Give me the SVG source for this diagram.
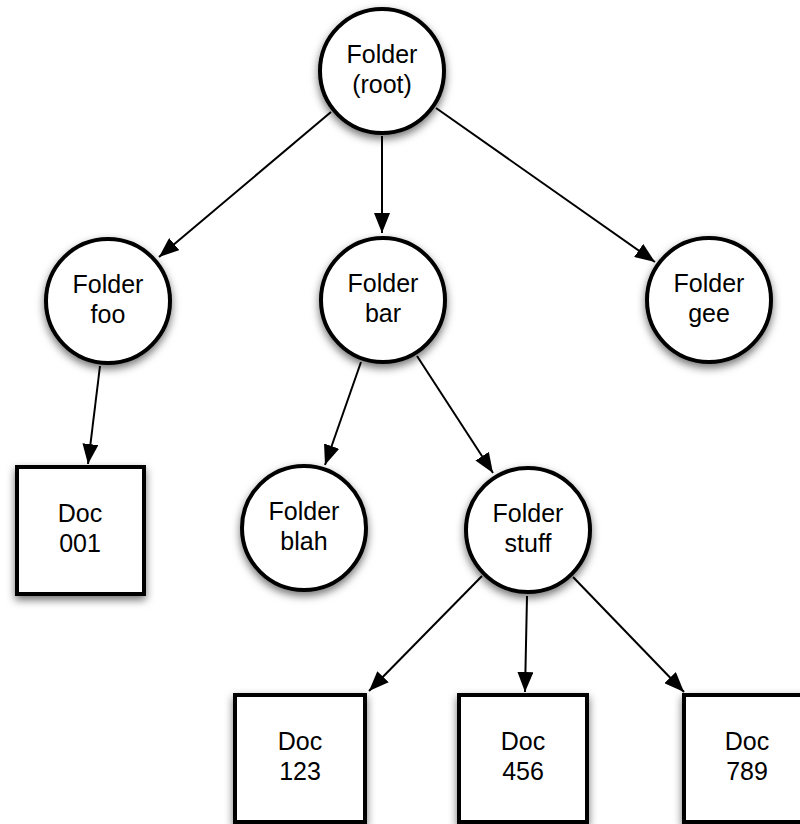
<svg xmlns="http://www.w3.org/2000/svg" width="800" height="824" viewBox="0 0 800 824">
  <defs>
    <filter id="shadow" x="-30%" y="-30%" width="160%" height="170%">
      <feDropShadow dx="0" dy="4" stdDeviation="4" flood-color="#000" flood-opacity="0.55"/>
    </filter>
    <marker id="arrow" viewBox="0 0 20 16" refX="20" refY="8" markerWidth="20" markerHeight="16" markerUnits="userSpaceOnUse" orient="auto">
      <path d="M0,0 L20,8 L0,16 z" fill="#000"/>
    </marker>
  </defs>
  <style>
    .node circle, .node rect { fill: #fff; stroke: #000; stroke-width: 4; filter: url(#shadow); }
    .node text { font-family: "Liberation Sans", Arial, Helvetica, sans-serif; font-size: 25px; fill: #000; text-anchor: middle; }
    .edge { stroke: #000; stroke-width: 2; fill: none; marker-end: url(#arrow); }
  </style>
  <rect width="800" height="824" fill="#fff"/>

  <g id="connectors">
    <line class="edge" x1="331" y1="112" x2="159" y2="257"/>
    <line class="edge" x1="382" y1="136" x2="382" y2="233"/>
    <line class="edge" x1="436" y1="108" x2="655" y2="262"/>
    <line class="edge" x1="100" y1="366" x2="88" y2="464"/>
    <line class="edge" x1="361" y1="362" x2="325" y2="465"/>
    <line class="edge" x1="417" y1="356" x2="493" y2="473"/>
    <line class="edge" x1="482" y1="576" x2="369" y2="691"/>
    <line class="edge" x1="527" y1="596" x2="525" y2="692"/>
    <line class="edge" x1="573" y1="577" x2="684" y2="692"/>
  </g>

  <g id="root" class="node">
    <circle cx="382" cy="71" r="62"/>
    <text x="382" y="63">Folder</text>
    <text x="382" y="93">(root)</text>
  </g>
  <g id="foo" class="node">
    <circle cx="108" cy="301" r="62"/>
    <text x="108" y="293">Folder</text>
    <text x="108" y="323">foo</text>
  </g>
  <g id="bar" class="node">
    <circle cx="383" cy="300" r="62"/>
    <text x="383" y="292">Folder</text>
    <text x="383" y="322">bar</text>
  </g>
  <g id="gee" class="node">
    <circle cx="709" cy="300" r="62"/>
    <text x="709" y="292">Folder</text>
    <text x="709" y="322">gee</text>
  </g>
  <g id="doc001" class="node">
    <rect x="17" y="467" width="127" height="127"/>
    <text x="80" y="522">Doc</text>
    <text x="80" y="552">001</text>
  </g>
  <g id="blah" class="node">
    <circle cx="304" cy="528" r="62"/>
    <text x="304" y="520">Folder</text>
    <text x="304" y="550">blah</text>
  </g>
  <g id="stuff" class="node">
    <circle cx="528" cy="530" r="62"/>
    <text x="528" y="522">Folder</text>
    <text x="528" y="552">stuff</text>
  </g>
  <g id="doc123" class="node">
    <rect x="235" y="695" width="130" height="127"/>
    <text x="300" y="750">Doc</text>
    <text x="300" y="780">123</text>
  </g>
  <g id="doc456" class="node">
    <rect x="459" y="695" width="128" height="127"/>
    <text x="523" y="750">Doc</text>
    <text x="523" y="780">456</text>
  </g>
  <g id="doc789" class="node">
    <rect x="684" y="695" width="127" height="127"/>
    <text x="747" y="750">Doc</text>
    <text x="747" y="780">789</text>
  </g>
</svg>
